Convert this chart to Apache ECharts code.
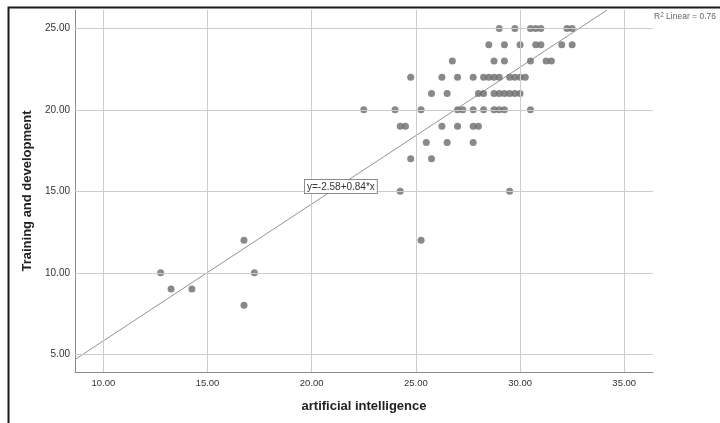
<!DOCTYPE html>
<html>
<head>
<meta charset="utf-8">
<script src="https://cdn.jsdelivr.net/npm/echarts@6/dist/echarts.min.js"></script>
<style>
html,body{margin:0;padding:0;background:#fff;}
#chart{width:720px;height:423px;}
</style>
</head>
<body>
<div id="chart"></div>
<script>
// artificial intelligence (x) and Training and development (y), one pair per index
const aiValues = [
  29.0, 29.75, 30.5, 30.75, 31.0, 32.25, 32.5,
  28.5, 29.25, 30.0, 30.75, 31.0, 32.0, 32.5,
  26.75, 28.75, 29.25, 30.5, 31.25, 31.5,
  24.75, 26.25, 27.0, 27.75, 28.25, 28.5, 28.75, 29.0, 29.5, 29.75, 30.0, 30.25,
  25.75, 26.5, 28.0, 28.25, 28.75, 29.0, 29.25, 29.5, 29.75, 30.0,
  22.5, 24.0, 25.25, 27.0, 27.25, 27.75, 28.25, 28.75, 29.0, 29.25, 30.5,
  24.25, 24.5, 26.25, 27.0, 27.75, 28.0,
  25.5, 26.5, 27.75,
  24.75, 25.75,
  24.25, 29.5,
  16.75, 25.25,
  12.75, 17.25,
  13.25, 14.25,
  16.75
];
const tdValues = [
  25, 25, 25, 25, 25, 25, 25,
  24, 24, 24, 24, 24, 24, 24,
  23, 23, 23, 23, 23, 23,
  22, 22, 22, 22, 22, 22, 22, 22, 22, 22, 22, 22,
  21, 21, 21, 21, 21, 21, 21, 21, 21, 21,
  20, 20, 20, 20, 20, 20, 20, 20, 20, 20, 20,
  19, 19, 19, 19, 19, 19,
  18, 18, 18,
  17, 17,
  15, 15,
  12, 12,
  10, 10,
  9, 9,
  8
];
const xTicks = [10, 15, 20, 25, 30, 35];
const yTicks = [5, 10, 15, 20, 25];
const fitIntercept = -2.58;
const fitSlope = 0.84;
const rSquared = 0.76;

const xMin = 8.64, xMax = 36.38;
const yMin = 3.91, yMax = 26.13;

const points = aiValues.map((v, i) => [v, tdValues[i]]);
const fitX0 = xMin;
const fitX1 = (yMax - fitIntercept) / fitSlope;
const fitLine = [[fitX0, fitIntercept + fitSlope * fitX0], [fitX1, fitIntercept + fitSlope * fitX1]];

const font = "'Liberation Sans', Arial, sans-serif";
const gridColor = '#cccccc';

const chart = echarts.init(document.getElementById('chart'), null, {renderer: 'canvas'});
chart.setOption({
  animation: false,
  backgroundColor: '#fff',
  grid: {left: 75, top: 10, right: 67, bottom: 51, containLabel: false},
  xAxis: {
    type: 'value', min: xMin, max: xMax,
    name: 'artificial intelligence', nameLocation: 'middle', nameGap: 28,
    nameTextStyle: {fontFamily: font, fontSize: 13, fontWeight: 'bold', color: '#222'},
    axisLine: {show: true, lineStyle: {color: '#8c8c8c', width: 1}},
    axisTick: {show: false},
    splitLine: {show: false},
    axisLabel: {
      customValues: xTicks, fontFamily: font, fontSize: 9.5, color: '#333', margin: 6,
      formatter: v => v.toFixed(2)
    }
  },
  yAxis: {
    type: 'value', min: yMin, max: yMax,
    name: 'Training and development', nameLocation: 'middle', nameGap: 35,
    nameTextStyle: {fontFamily: font, fontSize: 13, fontWeight: 'bold', color: '#222'},
    axisLine: {show: true, lineStyle: {color: '#8c8c8c', width: 1}},
    axisTick: {show: false},
    splitLine: {show: false},
    axisLabel: {
      customValues: yTicks, fontFamily: font, fontSize: 10, color: '#333', margin: 5,
      formatter: v => v.toFixed(2)
    }
  },
  series: [
    {
      type: 'line', data: [], silent: true,
      markLine: {
        silent: true, symbol: 'none', label: {show: false},
        lineStyle: {color: gridColor, width: 1, type: 'solid'},
        data: xTicks.map(v => ({xAxis: v})).concat(yTicks.map(v => ({yAxis: v})))
      }
    },
    {
      type: 'line', data: fitLine, showSymbol: false, symbol: 'none', silent: true,
      lineStyle: {color: '#939393', width: 1}, z: 3
    },
    {
      type: 'scatter', data: points, symbol: 'circle', symbolSize: 7,
      itemStyle: {color: '#6b6b6b'}, z: 4
    }
  ],
  graphic: [
    {
      type: 'rect', left: 6, top: 5, silent: true,
      shape: {width: 740, height: 440},
      style: {fill: 'none', stroke: '#1a1a1a', lineWidth: 2}
    },
    {
      type: 'text', left: 304, top: 179, z: 10,
      style: {
        text: 'y=-2.58+0.84*x', fontFamily: font, fontSize: 10, fill: '#333',
        backgroundColor: '#fff', borderColor: '#8a8a8a', borderWidth: 1, padding: [2, 2, 1, 2]
      }
    },
    {
      type: 'text', left: 654, top: 12, z: 10,
      style: {
        text: 'R{sup|2} Linear = ' + rSquared.toFixed(2),
        fontFamily: font, fontSize: 8.5, fill: '#666',
        rich: {sup: {fontSize: 6.5, fill: '#666', verticalAlign: 'top', padding: [0, 0, 3, 0]}}
      }
    }
  ]
});
</script>
</body>
</html>
